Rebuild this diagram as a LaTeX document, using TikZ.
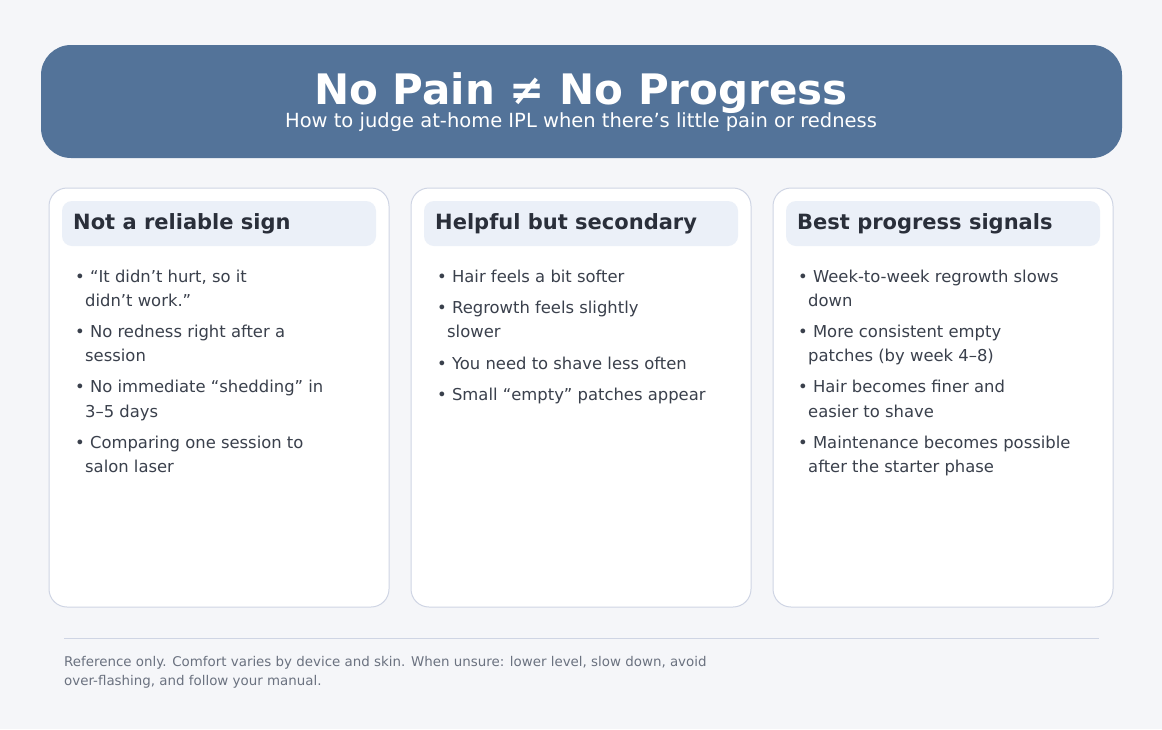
\documentclass[tikz,border=0pt]{standalone}
\usepackage{fontspec}
\setmainfont{DejaVu Sans}
\definecolor{bg}{HTML}{F5F6F9}
\definecolor{hdr}{HTML}{537399}
\definecolor{brd}{HTML}{CFD5E4}
\definecolor{hbox}{HTML}{EBF0F8}
\definecolor{ttl}{HTML}{2A2F3A}
\definecolor{txt}{HTML}{3A404C}
\definecolor{foot}{HTML}{6B7280}
\begin{document}
\begin{tikzpicture}[x=1pt,y=-1pt,
  card/.style={draw=brd,line width=1pt,fill=white,rounded corners=18pt},
  headbox/.style={fill=hbox,rounded corners=10pt},
  headtxt/.style={anchor=base west,text=ttl,font=\fontsize{21}{24}\selectfont\bfseries,inner sep=0},
  bl/.style={anchor=base west,text=txt,font=\fontsize{16.4}{19}\selectfont,inner sep=0},
  ft/.style={anchor=base west,text=foot,font=\fontsize{13.4}{16}\selectfont,inner sep=0}]
\fill[bg] (0,0) rectangle (1162,729);
\useasboundingbox (0,0) rectangle (1162,729);
\fill[hdr,rounded corners=30pt] (41,45) rectangle (1122,158);
\node[text=white,font=\fontsize{42}{46}\selectfont\bfseries,anchor=base,inner sep=0] (title) at (581,104) {No Pain ≠ No Progress};
\node[text=white,font=\fontsize{19.5}{22}\selectfont,anchor=base,inner sep=0] (sub) at (581,127) {How to judge at-home IPL when there’s little pain or redness};
\foreach \x in {49,411,773}{
  \draw[card] (\x,188) rectangle (\x+340,607);
  \fill[headbox] (\x+13,201) rectangle (\x+327,246);
}
\node[headtxt] (h1) at (73,229) {Not a reliable sign};
\node[headtxt] (h2) at (435,229) {Helpful but secondary};
\node[headtxt] (h3) at (797,229) {Best progress signals};
% column 1
\node[bl] (a1) at (75,282) {• “It didn’t hurt, so it};
\node[bl] (a1b) at (85,306) {didn’t work.”};
\node[bl] (a2) at (75,337) {• No redness right after a};
\node[bl] (a2b) at (85,361) {session};
\node[bl] (a3) at (75,392) {• No immediate “shedding” in};
\node[bl] (a3b) at (85,417) {3–5 days};
\node[bl] (a4) at (75,448) {• Comparing one session to};
\node[bl] (a4b) at (85,472) {salon laser};
% column 2
\node[bl] (b1) at (437,282) {• Hair feels a bit softer};
\node[bl] (b2) at (437,313) {• Regrowth feels slightly};
\node[bl] (b2b) at (447,337) {slower};
\node[bl] (b3) at (437,369) {• You need to shave less often};
\node[bl] (b4) at (437,400) {• Small “empty” patches appear};
% column 3
\node[bl] (c1) at (798,282) {• Week-to-week regrowth slows};
\node[bl] (c1b) at (808,306) {down};
\node[bl] (c2) at (798,337) {• More consistent empty};
\node[bl] (c2b) at (808,361) {patches (by week 4–8)};
\node[bl] (c3) at (798,392) {• Hair becomes finer and};
\node[bl] (c3b) at (808,417) {easier to shave};
\node[bl] (c4) at (798,448) {• Maintenance becomes possible};
\node[bl] (c4b) at (808,472) {after the starter phase};
\draw[brd,line width=1pt] (64,638) -- (1099,638);
\node[ft] (f1) at (64,666) {Reference only. Comfort varies by device and skin. When unsure: lower level, slow down, avoid};
\node[ft] (f2) at (64,685) {over-flashing, and follow your manual.};
\end{tikzpicture}
\end{document}
